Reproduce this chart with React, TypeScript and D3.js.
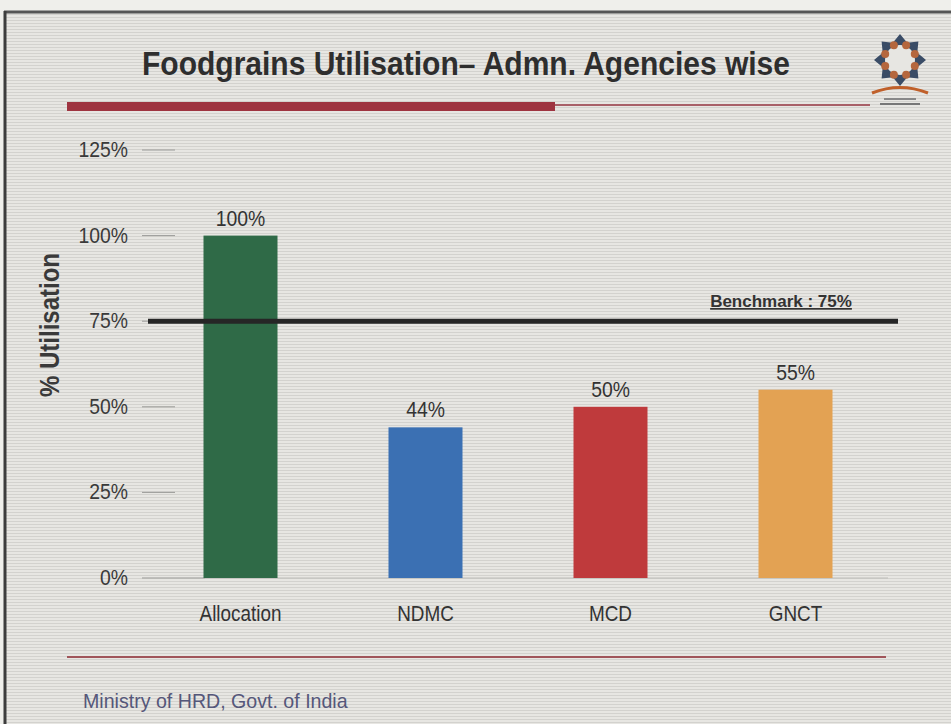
import React from "react";
import * as d3 from "d3";

const categories = ["Allocation", "NDMC", "MCD", "GNCT"];
const values = [100, 44, 50, 55];
const valueLabels = ["100%", "44%", "50%", "55%"];
const barColors = ["#2f6a47", "#3b70b3", "#bf3a3c", "#e3a253"];
const yTicks = [0, 25, 50, 75, 100, 125];
const yTickLabels = ["0%", "25%", "50%", "75%", "100%", "125%"];
const benchmark = 75;
const benchmarkLabel = "Benchmark : 75%";
const title = "Foodgrains Utilisation\u2013 Admn. Agencies wise";
const yTitle = "% Utilisation";
const footer = "Ministry of HRD, Govt. of India";

const W = 951;
const H = 724;
const FONT = "'Liberation Sans', Arial, sans-serif";

function NText(props: {
  x: number; y: number; sx?: number; anchor?: string; size: number; fill: string; bold?: boolean; children: any; underline?: boolean;
}) {
  const { x, y, sx = 0.87, anchor = "start", size, fill, bold, children, underline } = props;
  return (
    <text transform={`translate(${x},${y}) scale(${sx},1)`} textAnchor={anchor} fontFamily={FONT}
      fontSize={size} fill={fill} fontWeight={bold ? "bold" : "normal"}
      textDecoration={underline ? "underline" : undefined}>{children}</text>
  );
}

export default function App() {
  const x = d3.scaleBand<string>().domain(categories).range([148, 888]).paddingInner(0.6).paddingOuter(0.3);
  const y = d3.scaleLinear().domain([0, 125]).range([578, 150]);
  const bw = x.bandwidth();

  // logo geometry
  const lcx = 900, lcy = 60, lr = 26;
  const spokes = d3.range(8).map((i) => (i * Math.PI) / 4 - Math.PI / 2);

  return (
    <svg width={W} height={H} style={{ position: "absolute", left: 0, top: 0 }}>
      <defs>
        <pattern id="scan" width="8" height="3" patternUnits="userSpaceOnUse">
          <rect width="8" height="3" fill="#e7e6e2" />
          <rect y="2" width="8" height="1" fill="#d3d2ce" />
        </pattern>
      </defs>
      <rect width={W} height={H} fill="#efefeb" />
      <rect x={4} y={12} width={W - 4} height={H - 12} fill="url(#scan)" />
      <line x1={4} y1={12} x2={W} y2={12} stroke="#555" strokeWidth={3} />
      <line x1={5} y1={11} x2={5} y2={H} stroke="#3d3d3d" strokeWidth={3} />

      {/* title */}
      <text x={466} y={75} textAnchor="middle" fontFamily={FONT} fontWeight="bold" fontSize={34}
        fill="#2e2e2e" textLength={648} lengthAdjust="spacingAndGlyphs">{title}</text>
      <rect x={67} y={102} width={488} height={9} fill="#9e3440" />
      <line x1={555} y1={105} x2={870} y2={105} stroke="#a86068" strokeWidth={2} />

      {/* logo */}
      <g>
        <path
          d={d3.range(16).map((k) => {
            const a = (k * Math.PI) / 8 - Math.PI / 2;
            const r = k % 2 === 0 ? lr : lr * 0.72;
            return `${k === 0 ? "M" : "L"}${lcx + Math.cos(a) * r},${lcy + Math.sin(a) * r}`;
          }).join("") + "Z"}
          fill="#3a4c66" />
        <circle cx={lcx} cy={lcy} r={15} fill="#e7e6e2" />
        {spokes.map((a, i) => (
          <circle key={i} cx={lcx + Math.cos(a + Math.PI / 8) * 16} cy={lcy + Math.sin(a + Math.PI / 8) * 16} r={4} fill="#b5673e" />
        ))}
        <path d={`M${lcx - 28},${lcy + 33} Q${lcx},${lcy + 22} ${lcx + 28},${lcy + 33}`} stroke="#c0602a" strokeWidth={3} fill="none" />
        <rect x={lcx - 16} y={lcy + 38} width={32} height={2} fill="#888" />
        <rect x={lcx - 20} y={lcy + 43} width={40} height={2} fill="#777" />
      </g>

      {/* y axis ticks */}
      {yTicks.map((t, i) => (
        <g key={t}>
          <line x1={142} x2={t === 0 ? 205 : 175} y1={y(t)} y2={y(t)} stroke="#9a9a98" strokeWidth={1} />
          <NText x={128} y={y(t) + 7} anchor="end" size={22} sx={0.88} fill="#3a3a3a">{yTickLabels[i]}</NText>
        </g>
      ))}
      <line x1={142} x2={888} y1={y(0)} y2={y(0)} stroke="#bcbcb8" strokeWidth={1} />

      <text transform={`translate(59,${325}) rotate(-90)`} textAnchor="middle" fontFamily={FONT}
        fontWeight="bold" fontSize={28} fill="#3a3a3a" textLength={144} lengthAdjust="spacingAndGlyphs">{yTitle}</text>

      {/* bars */}
      {categories.map((c, i) => (
        <g key={c}>
          <rect x={x(c)} y={y(values[i])} width={bw} height={y(0) - y(values[i])} fill={barColors[i]} />
          <NText x={(x(c) as number) + bw / 2} y={y(values[i]) - 10} anchor="middle" size={22} sx={0.88}
            fill="#333">{valueLabels[i]}</NText>
          <NText x={(x(c) as number) + bw / 2} y={621} anchor="middle" size={22} sx={0.86}
            fill="#333">{c}</NText>
        </g>
      ))}

      {/* benchmark */}
      <line x1={148} x2={898} y1={y(benchmark)} y2={y(benchmark)} stroke="#262626" strokeWidth={5} />
      <NText x={781} y={307} anchor="middle" size={17} sx={1} bold fill="#333" underline>{benchmarkLabel}</NText>

      {/* footer */}
      <line x1={67} x2={886} y1={657} y2={657} stroke="#a0555a" strokeWidth={2} />
      <NText x={83} y={708} size={20} sx={0.98} fill="#55577a">{footer}</NText>
    </svg>
  );
}
